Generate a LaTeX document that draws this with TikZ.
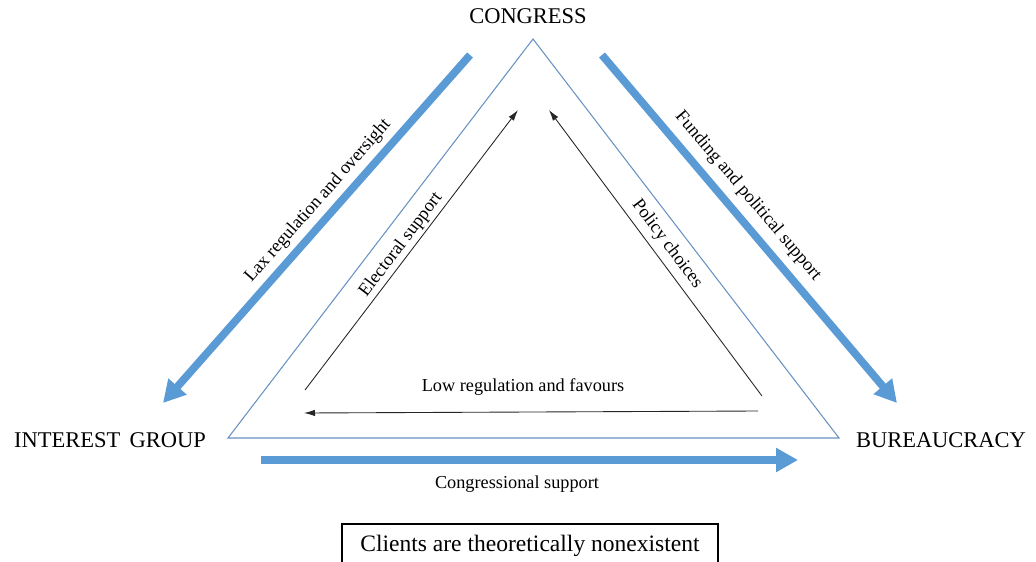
\documentclass[tikz,border=0pt]{standalone}
\usepackage{fontspec}
\setmainfont{Liberation Serif}
\usetikzlibrary{arrows.meta}
\definecolor{thickblue}{HTML}{5B9BD5}
\definecolor{triblue}{RGB}{105,145,195}
\begin{document}
\begin{tikzpicture}[x=0.02cm,y=-0.02cm,
  bigarrow/.style={line width=4.4pt,color=thickblue,-{Triangle[length=0.44cm,width=0.46cm]}},
  thinarrow/.style={line width=0.5pt,color=black!85,-{Latex[length=2.2mm,width=1.3mm]}},
  vertex/.style={font=\fontsize{12.8pt}{14pt}\selectfont,inner sep=0pt},
  lbl/.style={font=\fontsize{10.4pt}{12pt}\selectfont,inner sep=0pt},
  tri/.style={line width=0.6pt,color=triblue}]
\clip (0,0) rectangle (1036,562);
\useasboundingbox (0,0) rectangle (1036,562);
% vertices labels
\node[vertex] (congress) at (528,16) {CONGRESS};
\node[vertex] (interest) at (110,440) {INTEREST\ \,GROUP};
\node[vertex] (bureau) at (941,440) {BUREAUCRACY};
% triangle
\coordinate (tA) at (533,39);
\coordinate (tB) at (228,438);
\coordinate (tC) at (839,438);
\draw[tri,line join=miter] (tA) -- (tB) -- (tC) -- cycle;
% thick arrows
\coordinate (l1) at (470,55);
\coordinate (l2) at (163,403);
\coordinate (r1) at (602,55);
\coordinate (r2) at (897,403);
\coordinate (b1) at (261,460);
\coordinate (b2) at (798,460);
\draw[bigarrow] (l1) -- (l2);
\draw[bigarrow] (r1) -- (r2);
\draw[bigarrow] (b1) -- (b2);
% thin arrows
\coordinate (e1) at (305,390);
\coordinate (e2) at (518,110);
\coordinate (p1) at (762,396);
\coordinate (p2) at (549,110);
\coordinate (w1) at (758,411);
\coordinate (w2) at (304,413);
\draw[thinarrow] (e1) -- (e2);
\draw[thinarrow] (p1) -- (p2);
\draw[thinarrow] (w1) -- (w2);
% labels
\node[lbl,rotate=48.6] (laxl) at (318,201) {Lax regulation and oversight};
\node[lbl,rotate=52.7] (elecl) at (401,245) {Electoral support};
\node[lbl,rotate=-49.7] (fundl) at (748,196) {Funding and political support};
\node[lbl,rotate=-53.3] (polil) at (667,244) {Policy choices};
\node[lbl] (lowl) at (523,387) {Low regulation and favours};
\node[lbl] (congl) at (517,484) {Congressional support};
% box
\node[draw,line width=0.6pt,minimum width=376*0.02cm,minimum height=44*0.02cm,
  font=\fontsize{13.4pt}{15pt}\selectfont,inner sep=0pt] (clients) at (530,546)
  {Clients are theoretically nonexistent};
\end{tikzpicture}
\end{document}
